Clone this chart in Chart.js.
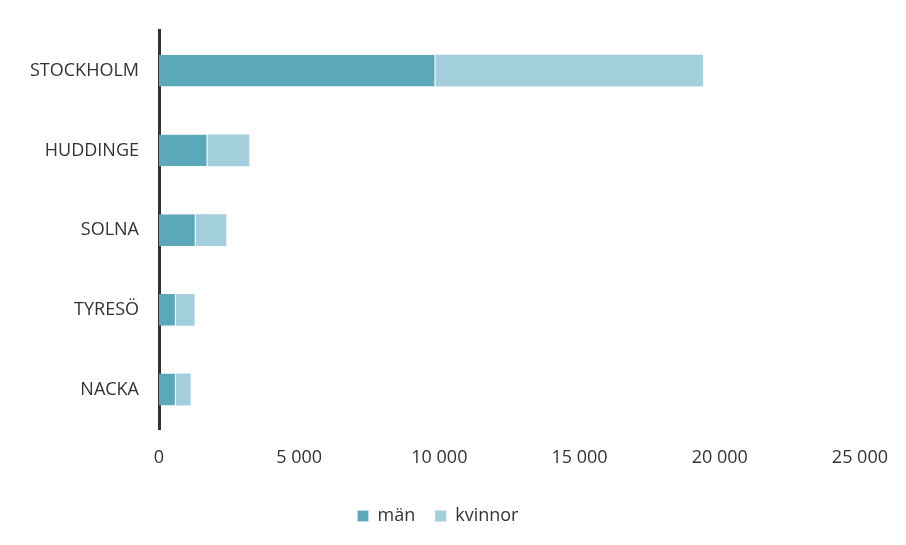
<!DOCTYPE html>
<html><head><meta charset="utf-8">
<script src="https://cdn.jsdelivr.net/npm/chart.js@4"></script>
<style>body{margin:0;background:#fff}#w{width:906px;height:545px}</style>
</head><body><div id="w"><canvas id="c"></canvas></div>
<script>
const categories = ['STOCKHOLM', 'HUDDINGE', 'SOLNA', 'TYRESÖ', 'NACKA'];
const man = [9860, 1730, 1310, 600, 600];
const kvinnor = [9540, 1490, 1090, 670, 530];

Chart.defaults.font.family = 'Open Sans, Noto Sans, sans-serif';
Chart.defaults.color = '#333';
new Chart(document.getElementById('c'), {
  type: 'bar',
  data: {
    labels: categories,
    datasets: [
      {label: 'män', data: man, backgroundColor: '#5ba8bb', borderColor: '#fff', borderWidth: {right: 1}, borderSkipped: false, barPercentage: 0.4, categoryPercentage: 1},
      {label: 'kvinnor', data: kvinnor, backgroundColor: '#a3cfdc', barPercentage: 0.4, categoryPercentage: 1}
    ]
  },
  options: {
    indexAxis: 'y',
    responsive: true,
    maintainAspectRatio: false,
    animation: false,
    layout: {padding: {top: 28, right: 40, left: 10, bottom: 10}},
    scales: {
      x: {
        stacked: true, min: 0, max: 25000,
        grid: {display: false, drawTicks: false},
        border: {display: false},
        ticks: {stepSize: 5000, padding: 18, font: {size: 18},
          callback: v => v.toLocaleString('sv-SE').replace(/\u00a0/g, ' ')}
      },
      y: {
        stacked: true,
        grid: {display: false, drawTicks: false},
        border: {color: '#333', width: 3},
        ticks: {padding: 20, font: {size: 18}}
      }
    },
    plugins: {
      legend: {position: 'bottom', labels: {boxWidth: 11, boxHeight: 11, font: {size: 18}, padding: 20}},
      tooltip: {enabled: false}
    }
  }
});
</script></body></html>
